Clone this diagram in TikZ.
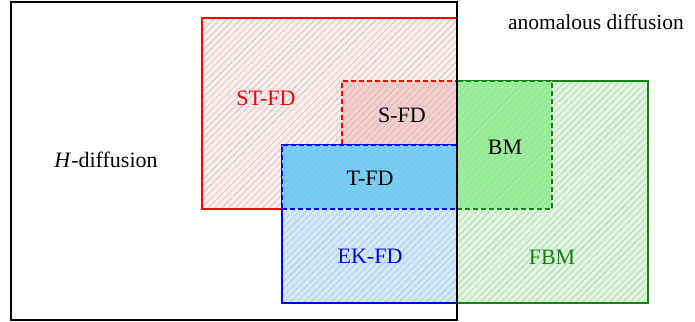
\documentclass[tikz,border=0pt]{standalone}
\usepackage{fontspec}
\setmainfont{Liberation Serif}
\usetikzlibrary{patterns.meta}
\definecolor{stfill}{RGB}{253,236,236}
\definecolor{sfill}{RGB}{250,204,204}
\definecolor{tfill}{RGB}{106,206,252}
\definecolor{ekfill}{RGB}{206,234,252}
\definecolor{bmfill}{RGB}{146,244,146}
\definecolor{fbmfill}{RGB}{218,248,218}
\definecolor{fbmgreen}{RGB}{20,130,20}
\begin{document}
\begin{tikzpicture}[x=1pt,y=-1pt,
  region/.style={inner sep=0pt, outer sep=0pt, line width=1.5pt,
    pattern={Lines[angle=45,distance=4.8pt,line width=0.6pt]}, pattern color=gray!50},
  dashedge/.style={dash pattern=on 5pt off 3pt},
  lbl/.style={font=\fontsize{22}{26}\selectfont, inner sep=0pt}]
\useasboundingbox (0,0) rectangle (695,321);
% regions
\node[region, preaction={fill=stfill}, draw=red, minimum width=255pt, minimum height=191pt] (st) at (329.5,113.5) {};
\node[region, preaction={fill=sfill}, draw=red, dashedge, minimum width=115pt, minimum height=128pt] (s) at (399.5,145) {};
\node[region, preaction={fill=fbmfill}, draw=fbmgreen, minimum width=191pt, minimum height=222pt] (fbm) at (552.5,192) {};
\node[region, preaction={fill=bmfill}, draw=fbmgreen, dashedge, minimum width=95pt, minimum height=128pt] (bm) at (504.5,145) {};
\node[region, preaction={fill=ekfill}, draw=blue, minimum width=175pt, minimum height=158pt] (ek) at (369.5,224) {};
\node[region, preaction={fill=tfill}, draw=blue, dashedge, minimum width=175pt, minimum height=64pt] (t) at (369.5,177) {};
\node[draw=black, line width=1.3pt, inner sep=0pt, minimum width=446pt, minimum height=318pt] (h) at (234,161) {};
% labels
\node[lbl, font=\fontsize{21.5}{26}\selectfont] (lanom) at (596,22) {anomalous diffusion};
\node[lbl] (lh) at (106,160) {\textit{H}-diffusion};
\node[lbl, text=red] (lst) at (266,98) {ST-FD};
\node[lbl] (ls) at (402,115) {S-FD};
\node[lbl] (lt) at (370,178) {T-FD};
\node[lbl] (lbm) at (505,147) {BM};
\node[lbl, text=blue] (lek) at (370,256) {EK-FD};
\node[lbl, text=fbmgreen] (lfbm) at (552,257) {FBM};
\end{tikzpicture}
\end{document}
